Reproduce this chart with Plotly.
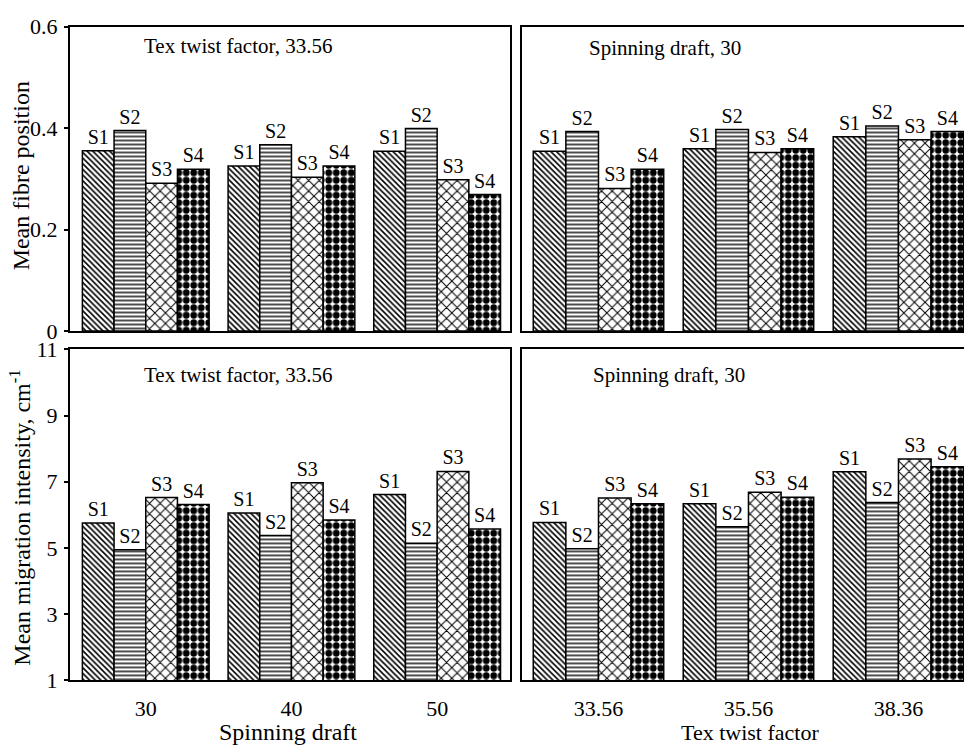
import plotly.graph_objects as go

W, H = 964, 755
FONT = "Liberation Serif"

series = ["S1", "S2", "S3", "S4"]
draft_labels = ["30", "40", "50"]
twist_labels = ["33.56", "35.56", "38.36"]

# Mean fibre position (rows: S1..S4, columns: category)
fibre_by_draft = [
    [0.355, 0.325, 0.354],
    [0.395, 0.367, 0.399],
    [0.291, 0.303, 0.298],
    [0.319, 0.325, 0.269],
]
fibre_by_twist = [
    [0.354, 0.359, 0.383],
    [0.393, 0.397, 0.404],
    [0.281, 0.352, 0.377],
    [0.319, 0.359, 0.393],
]
# Mean migration intensity, cm^-1
migr_by_draft = [
    [5.75, 6.05, 6.61],
    [4.94, 5.37, 5.14],
    [6.52, 6.97, 7.31],
    [6.31, 5.84, 5.57],
]
migr_by_twist = [
    [5.77, 6.33, 7.30],
    [4.97, 5.64, 6.37],
    [6.51, 6.68, 7.69],
    [6.33, 6.53, 7.45],
]

fibre_ticks = [0, 0.2, 0.4, 0.6]
fibre_tick_text = ["0", "0.2", "0.4", "0.6"]
migr_ticks = [1, 3, 5, 7, 9, 11]

patterns = [
    dict(shape="\\", size=4, solidity=0.4),
    dict(shape="-", size=4, solidity=0.35),
    dict(shape="x", size=7.5, solidity=0.25),
    dict(shape=".", size=7.5, solidity=0.65),
]

fig = go.Figure()

panels = [
    ("x", "y", fibre_by_draft),
    ("x2", "y2", fibre_by_twist),
    ("x3", "y3", migr_by_draft),
    ("x4", "y4", migr_by_twist),
]
for xa, ya, data in panels:
    for i, name in enumerate(series):
        fig.add_trace(go.Bar(
            x=[0, 1, 2], y=data[i], xaxis=xa, yaxis=ya, name=name,
            showlegend=False,
            text=[name] * 3, textposition="outside", cliponaxis=False,
            constraintext="none",
            textfont=dict(family=FONT, size=20, color="black"),
            marker=dict(color="white",
                        line=dict(color="black", width=1.5),
                        pattern=dict(fgcolor="black", bgcolor="white",
                                     fillmode="replace", **patterns[i])),
        ))


def px_x(p):
    return p / W


def px_y(p):
    return 1 - p / H


line_common = dict(showgrid=False, zeroline=False, showline=True,
                   linecolor="black", linewidth=2)
xtick_font = dict(family=FONT, size=22, color="black")
ytick_font = dict(family=FONT, size=22, color="black")

left_dom = [px_x(70), px_x(510)]
right_dom = [px_x(522), 1.0]
top_dom = [px_y(330), px_y(15)]
bot_dom = [px_y(691), px_y(349)]

fig.update_layout(
    width=W, height=H, margin=dict(l=0, r=0, t=0, b=0),
    paper_bgcolor="white", plot_bgcolor="white",
    barmode="group", bargap=0.13, bargroupgap=0,
    xaxis=dict(domain=left_dom, range=[-0.52, 2.5], mirror=True,
               showticklabels=False, ticks="", **line_common),
    yaxis=dict(domain=top_dom, range=[0, 0.6], mirror=True,
               tickvals=fibre_ticks, ticktext=fibre_tick_text,
               ticks="outside", ticklen=4, tickwidth=1.5, tickcolor="black",
               ticklabelstandoff=2, tickfont=ytick_font, **line_common),
    xaxis2=dict(domain=right_dom, range=[-0.51, 2.437], mirror=True,
                anchor="y2", showticklabels=False, ticks="", **line_common),
    yaxis2=dict(domain=top_dom, range=[0, 0.6], anchor="x2",
                showticklabels=False, ticks="", **line_common),
    xaxis3=dict(domain=left_dom, range=[-0.52, 2.5], mirror=True,
                anchor="y3", tickvals=[0, 1, 2], ticktext=draft_labels,
                ticks="", ticklabelstandoff=7, tickfont=xtick_font,
                **line_common),
    yaxis3=dict(domain=bot_dom, range=[1, 11], mirror=True, anchor="x3",
                tickvals=migr_ticks, ticks="outside", ticklen=4,
                tickwidth=1.5, tickcolor="black", ticklabelstandoff=2,
                tickfont=ytick_font, **line_common),
    xaxis4=dict(domain=right_dom, range=[-0.51, 2.437], mirror=True,
                anchor="y4", tickvals=[0, 1, 2], ticktext=twist_labels,
                ticks="", ticklabelstandoff=7, tickfont=xtick_font,
                **line_common),
    yaxis4=dict(domain=bot_dom, range=[1, 11], anchor="x4",
                showticklabels=False, ticks="", **line_common),
)

text_font = dict(family=FONT, size=21, color="black")
vtitle_font = dict(family=FONT, size=24, color="black")
notes = [
    ("Tex twist factor, 33.56", 143, 35, "left", 0, text_font),
    ("Spinning draft, 30", 588, 37, "left", 0, text_font),
    ("Tex twist factor, 33.56", 143, 375, "left", 0, text_font),
    ("Spinning draft, 30", 592, 375, "left", 0, text_font),
    ("Spinning draft", 288, 745, "center", 0,
     dict(family=FONT, size=24, color="black")),
    ("Tex twist factor", 750, 745, "center", 0,
     dict(family=FONT, size=22, color="black")),
    ("Mean fibre position", 21, 170, "center", -90, vtitle_font),
    ("Mean migration intensity, cm<sup>-1</sup>", 20, 523, "center", -90,
     vtitle_font),
]
for txt, x, y, anchor, ang, f in notes:
    fig.add_annotation(text=txt, xref="paper", yref="paper",
                       x=px_x(x), y=px_y(y), xanchor=anchor, yanchor="middle",
                       textangle=ang, showarrow=False, borderpad=0, font=f)

fig.write_html("out.html")
